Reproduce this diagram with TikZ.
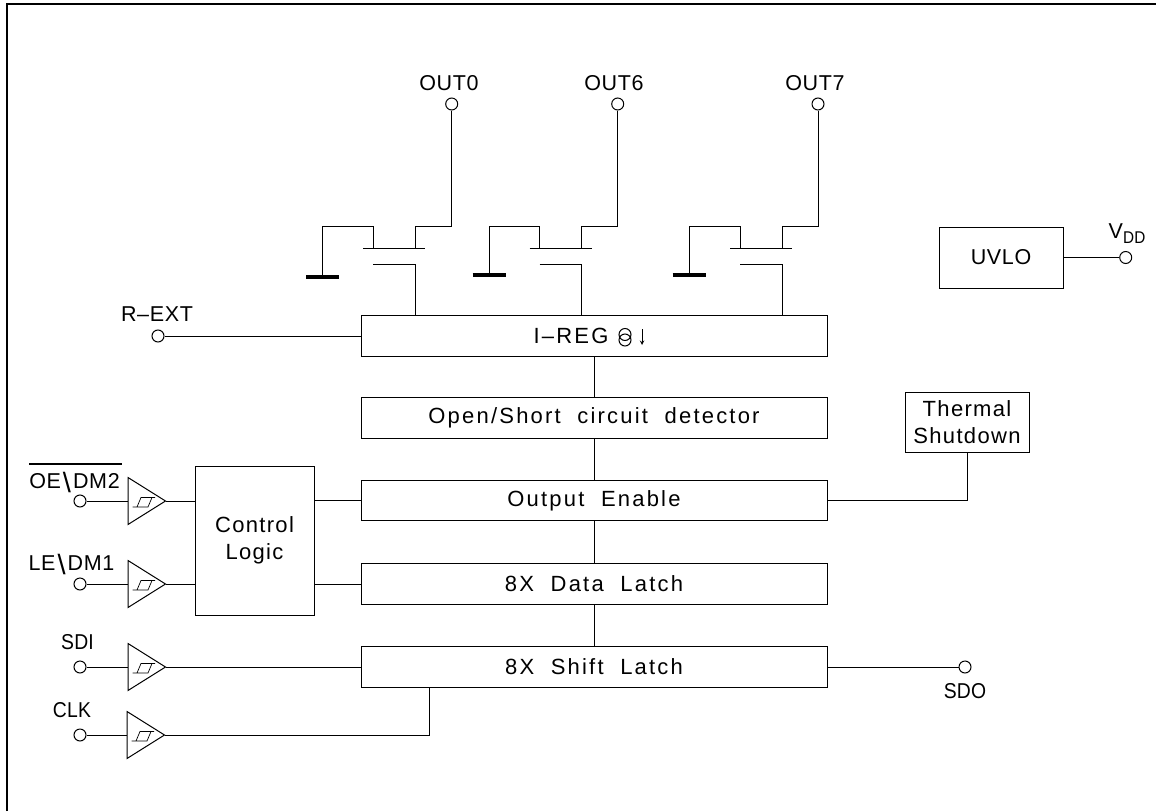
\documentclass[tikz,border=0pt]{standalone}
\usepackage{fontspec}
\setmainfont[LetterSpace=10]{Liberation Sans}
\newfontfamily\widefont[LetterSpace=6]{Liberation Sans}
\newfontfamily\pinfont[LetterSpace=3]{Liberation Sans}
\newfontfamily\narrowfont[FakeStretch=0.9,LetterSpace=1]{Liberation Sans}
\usepackage{tikz}
\usetikzlibrary{arrows,positioning,calc}
\def\slashmark{\smash{\raisebox{-4pt}{\hspace{2pt}\scalebox{1.35}[1.3]{\textbackslash}\hspace{2pt}}}}
\def\barmark#1{\rlap{\smash{\raisebox{24pt}{\rule{93pt}{1.6pt}}}}#1}
\tikzset{
    wire/.style={line width=1pt,line join=miter},
    boxnode/.style={draw,wire,inner sep=0pt,minimum width=466pt,minimum height=40.5pt,font=\fontsize{22}{27}\selectfont},
    blocknode/.style={draw,wire,inner sep=0pt,align=center,font=\fontsize{22}{27}\selectfont\widefont},
    pinnode/.style={draw,wire,circle,inner sep=0pt,minimum size=12pt,fill=white},
    labelnode/.style={inner sep=0pt,font=\fontsize{21.5}{24}\selectfont\pinfont},
}
\begin{document}
\begin{tikzpicture}[x=1pt,y=-1pt]
    \useasboundingbox (0,0) rectangle (1156,811);
    \draw[line width=2pt] (7,811) -- (7,4) -- (1156,4);
    \node[boxnode] (ireg) at (594,336) {I–REG\kern46pt};
    \node[boxnode] (detect) at (594,418) {Open/Short\ \ circuit\ \ detector};
    \node[boxnode] (enable) at (594,500.5) {Output\ \ Enable};
    \node[boxnode] (datalatch) at (594,584) {8X\ \ Data\ \ Latch};
    \node[boxnode] (shiftlatch) at (594,667) {8X\ \ Shift\ \ Latch};
    \node[blocknode,minimum width=119pt,minimum height=149pt] (control) at (254.5,540.5) {Control\\Logic};
    \node[blocknode,minimum width=124pt,minimum height=60pt] (thermal) at (967,422) {Thermal\\Shutdown};
    \node[blocknode,minimum width=124pt,minimum height=61pt,font=\fontsize{21.5}{24}\selectfont\pinfont] (uvlo) at (1001,257.5) {UVLO};
    \draw[wire] (625,334.5) circle (6pt) (625,340) circle (6pt);
    \draw[wire,-stealth] (642,329) -- (642,345);
    \foreach \nm/\lbl/\xa/\xg/\xo/\yb/\xt in {zero/OUT0/373/322.7/451.7/277/449,six/OUT6/539.5/489/617.7/275/614,seven/OUT7/740/689/818/275/815} {
        \node[pinnode] (pin\nm) at (\xo,104) {};
        \node[labelnode] (lbl\nm) at (\xt,83) {\lbl};
        \coordinate (gnd\nm) at (\xg,\yb);
        \draw[wire] (pin\nm) -- (\xo,226) -- (\xa+42,226) -- (\xa+42,248.5);
        \draw[wire] (gnd\nm) -- (\xg,226) -- (\xa,226) -- (\xa,248.5);
        \draw[wire] (\xa-10,248.5) -- (\xa+52,248.5);
        \draw[wire] (\xa,264) -- (\xa+42,264) -- (\xa+42,316);
        \draw[line width=4pt] (\xg-16.5,\yb) -- (\xg+16.5,\yb);
    }
    \foreach \nm/\xa/\yb in {oe/128/501,le/128/584,sdi/128/667,clk/127/735} {
        \begin{scope}[shift={(\xa,\yb)}]
        \coordinate (bufin\nm) at (0,0);
        \coordinate (bufout\nm) at (37.5,0);
        \draw[wire] (0,-23.5) -- (37.5,0) -- (0,23.5) -- cycle;
        \draw[line width=.7pt] (4.5,6) -- (20,6) -- (24,-3.5) -- (27,-3.5) -- (13,-3.5) -- (9,6);
        \end{scope}
        \node[pinnode] (pin\nm) at (80,\yb) {};
        \draw[wire] (pin\nm) -- (bufin\nm);
    }
    \node[pinnode] (pinrext) at (158,336) {};
    \node[pinnode] (pinsdo) at (965,667) {};
    \node[pinnode] (pinvdd) at (1125.7,257.5) {};
    \node[labelnode] (lblrext) at (157,314) {R–EXT};
    \node[labelnode] (lbloe) at (74.5,481.5) {\barmark{OE}\slashmark DM2};
    \node[labelnode] (lblle) at (71.5,563) {LE\slashmark DM1};
    \node[labelnode] (lblsdi) at (77.5,642) {\narrowfont SDI};
    \node[labelnode] (lblclk) at (72,710) {\narrowfont CLK};
    \node[labelnode] (lblsdo) at (965,691) {\narrowfont SDO};
    \node[labelnode] (lblvdd) at (1127,234) {V\raisebox{-5pt}{\fontsize{17}{20}\selectfont\narrowfont DD}};
    \coordinate (clktap) at (429,687);
    \draw[wire] (pinrext) -- (ireg.west);
    \draw[wire] (ireg.south) -- (detect.north);
    \draw[wire] (detect.south) -- (enable.north);
    \draw[wire] (enable.south) -- (datalatch.north);
    \draw[wire] (datalatch.south) -- (shiftlatch.north);
    \draw[wire] (bufoutoe) -- (bufoutoe -| control.west);
    \draw[wire] (bufoutle) -- (bufoutle -| control.west);
    \draw[wire] (control.east |- enable.west) -- (enable.west);
    \draw[wire] (control.east |- datalatch.west) -- (datalatch.west);
    \draw[wire] (bufoutsdi) -- (shiftlatch.west);
    \draw[wire] (bufoutclk) -| (clktap);
    \draw[wire] (shiftlatch.east) -- (pinsdo);
    \draw[wire] (enable.east) -| (thermal.south);
    \draw[wire] (uvlo.east) -- (pinvdd);
\end{tikzpicture}
\end{document}
